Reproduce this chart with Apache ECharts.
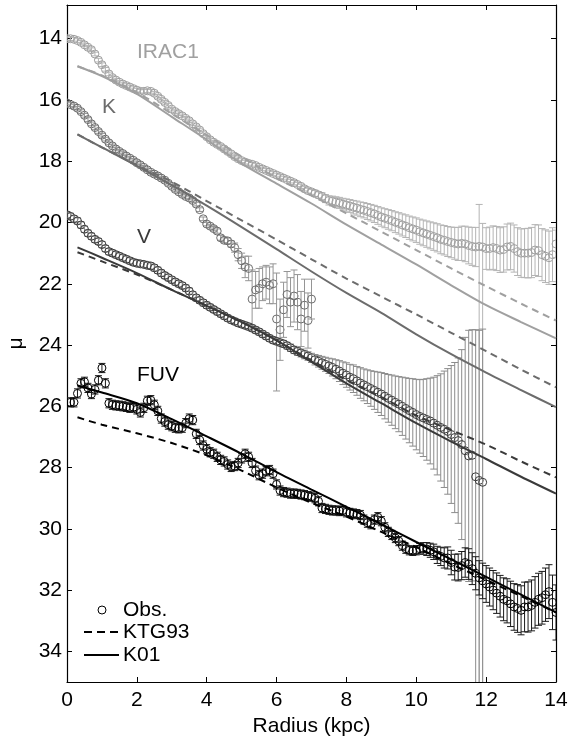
<!DOCTYPE html>
<html>
<head>
<meta charset="utf-8">
<script src="https://cdn.jsdelivr.net/npm/echarts@6/dist/echarts.min.js"></script>
<style>html,body{margin:0;padding:0;background:#fff}#c{width:575px;height:738px}</style>
</head>
<body>
<div id="c"></div>
<script>
// ---------- DATA ----------
const xTicks = [0, 2, 4, 6, 8, 10, 12, 14];
const yTicks = [14, 16, 18, 20, 22, 24, 26, 28, 30, 32, 34];
const bandLabels = ['IRAC1', 'K', 'V', 'FUV'];
const legendNames = ['Obs.', 'KTG93', 'K01'];

// observed profiles: [radius, mu, err(up), optional err(down)]
const iracObs = [
[0.0,14.00,0.06],[0.1,14.00,0.06],[0.2,14.02,0.06],[0.3,14.06,0.06],[0.4,14.12,0.06],[0.5,14.20,0.06],[0.6,14.28,0.06],[0.7,14.36,0.06],[0.8,14.50,0.06],[0.9,14.70,0.06],
[1.0,14.85,0.06],[1.1,15.00,0.06],[1.2,15.15,0.06],[1.3,15.27,0.06],[1.4,15.35,0.06],[1.5,15.42,0.06],[1.6,15.48,0.06],[1.7,15.53,0.06],[1.8,15.58,0.06],[1.9,15.63,0.06],
[2.0,15.68,0.06],[2.1,15.72,0.06],[2.2,15.72,0.06],[2.3,15.70,0.06],[2.4,15.72,0.06],[2.5,15.78,0.06],[2.6,15.88,0.06],[2.7,15.98,0.06],[2.8,16.08,0.06],[2.9,16.18,0.06],
[3.0,16.30,0.06],[3.1,16.38,0.06],[3.2,16.45,0.06],[3.3,16.52,0.06],[3.4,16.60,0.06],[3.5,16.68,0.06],[3.6,16.78,0.06],[3.7,16.88,0.06],[3.8,16.98,0.06],[3.9,17.10,0.06],
[4.0,17.20,0.06],[4.1,17.30,0.06],[4.2,17.38,0.06],[4.3,17.45,0.06],[4.4,17.52,0.06],[4.5,17.60,0.06],[4.6,17.68,0.06],[4.7,17.76,0.06],[4.8,17.85,0.06],[4.9,17.92,0.06],
[5.0,17.98,0.06],[5.1,18.03,0.06],[5.2,18.07,0.06],[5.3,18.10,0.06],[5.4,18.14,0.06],[5.5,18.20,0.06],[5.6,18.25,0.06],[5.7,18.30,0.06],[5.8,18.35,0.06],[5.9,18.40,0.06],
[6.0,18.45,0.06],[6.1,18.50,0.06],[6.2,18.55,0.06],[6.3,18.60,0.06],[6.4,18.65,0.06],[6.5,18.70,0.07],[6.6,18.76,0.07],[6.7,18.82,0.07],[6.8,18.90,0.07],[6.9,18.96,0.08],
[7.0,19.00,0.08],[7.1,19.05,0.10],[7.2,19.10,0.10],[7.3,19.15,0.12],[7.4,19.22,0.13],[7.5,19.28,0.15],[7.6,19.30,0.16],[7.7,19.33,0.17],[7.8,19.36,0.18],[7.9,19.40,0.19],
[8.0,19.43,0.20],[8.1,19.46,0.21],[8.2,19.50,0.22],[8.3,19.53,0.23],[8.4,19.57,0.24],[8.5,19.60,0.25],[8.6,19.64,0.26],[8.7,19.68,0.27],[8.8,19.72,0.28],[8.9,19.77,0.29],
[9.0,19.82,0.30],[9.1,19.86,0.31],[9.2,19.90,0.32],[9.3,19.94,0.33],[9.4,19.99,0.34],[9.5,20.03,0.35],[9.6,20.08,0.36],[9.7,20.12,0.37],[9.8,20.17,0.38],[9.9,20.21,0.39],
[10.0,20.25,0.40],[10.1,20.30,0.41],[10.2,20.34,0.42],[10.3,20.38,0.43],[10.4,20.42,0.44],[10.5,20.46,0.45],[10.6,20.50,0.46],[10.7,20.55,0.47],[10.8,20.58,0.48],[10.9,20.62,0.49],
[11.0,20.65,0.50],[11.1,20.68,0.52],[11.2,20.70,0.54],[11.3,20.68,0.56],[11.4,20.70,0.58],[11.5,20.75,0.60],[11.6,20.78,0.62],[11.7,20.80,0.64],[11.8,20.78,1.37,16],[11.9,20.80,0.77,16],
[12.0,20.85,0.68],[12.1,20.85,0.70],[12.2,20.82,0.71],[12.3,20.85,0.72],[12.4,20.90,0.73],[12.5,20.88,0.74],[12.6,20.80,0.75],[12.7,20.78,0.76],[12.8,20.85,0.77],[12.9,20.95,0.78],
[13.0,21.00,0.79],[13.1,21.00,0.80],[13.2,21.00,0.81],[13.3,20.98,0.82],[13.4,20.90,0.83],[13.5,20.92,0.84],[13.6,21.05,0.85],[13.7,21.10,0.86],[13.8,21.15,0.87],[13.9,21.05,0.88],
[14.0,20.70,0.45]
];

const kObs = [
[0.0,16.10,0.06],[0.1,16.15,0.06],[0.2,16.20,0.06],[0.3,16.27,0.06],[0.4,16.38,0.06],[0.5,16.50,0.06],[0.6,16.64,0.06],[0.7,16.78,0.06],[0.8,16.90,0.06],[0.9,17.03,0.06],
[1.0,17.15,0.06],[1.1,17.28,0.06],[1.2,17.40,0.06],[1.3,17.50,0.06],[1.4,17.60,0.06],[1.5,17.68,0.06],[1.6,17.75,0.06],[1.7,17.83,0.06],[1.8,17.90,0.06],[1.9,17.97,0.06],
[2.0,18.05,0.06],[2.1,18.12,0.06],[2.2,18.20,0.06],[2.3,18.28,0.06],[2.4,18.36,0.06],[2.5,18.42,0.06],[2.6,18.48,0.06],[2.7,18.55,0.06],[2.8,18.62,0.06],[2.9,18.72,0.06],
[3.0,18.82,0.06],[3.1,18.92,0.06],[3.2,19.00,0.06],[3.3,19.08,0.06],[3.4,19.15,0.06],[3.5,19.20,0.06],[3.6,19.28,0.06],[3.7,19.40,0.06],[3.8,19.58,0.06],[3.9,19.88,0.06],
[4.0,20.05,0.06],[4.1,20.12,0.06],[4.2,20.20,0.07],[4.3,20.28,0.07],[4.4,20.50,0.08],[4.5,20.58,0.08],[4.6,20.60,0.09],[4.7,20.70,0.10],[4.8,20.82,0.15],[4.9,21.05,0.20],
[5.0,21.25,0.25],[5.1,21.45,0.35],[5.2,21.50,0.40],[5.3,22.50,0.95],[5.4,22.20,0.60],[5.5,22.15,0.65],[5.6,22.00,0.55],[5.7,21.95,0.55],[5.8,22.05,0.60],[5.9,22.00,0.65],
[6.0,23.15,1.50,2.35],[6.1,23.50,1.00],[6.2,22.85,0.90],[6.3,22.35,0.75],[6.4,22.60,0.80],[6.5,22.40,0.85],[6.6,22.60,0.90],[6.7,23.15,0.90],[6.8,22.70,0.85],[6.9,23.20,0.90],
[7.0,22.50,0.65]
];

const vObs = [
[0.0,19.75,0.10],[0.1,19.80,0.10],[0.2,19.88,0.10],[0.3,19.95,0.10],[0.4,20.08,0.10],[0.5,20.22,0.10],[0.6,20.35,0.10],[0.7,20.45,0.10],[0.8,20.55,0.10],[0.9,20.62,0.10],
[1.0,20.72,0.10],[1.1,20.85,0.10],[1.2,20.95,0.10],[1.3,21.00,0.10],[1.4,21.05,0.10],[1.5,21.10,0.10],[1.6,21.15,0.10],[1.7,21.20,0.10],[1.8,21.25,0.10],[1.9,21.30,0.10],
[2.0,21.33,0.10],[2.1,21.35,0.10],[2.2,21.37,0.10],[2.3,21.40,0.10],[2.4,21.42,0.10],[2.5,21.48,0.10],[2.6,21.56,0.10],[2.7,21.65,0.10],[2.8,21.73,0.10],[2.9,21.80,0.10],
[3.0,21.87,0.10],[3.1,21.94,0.10],[3.2,22.00,0.10],[3.3,22.06,0.10],[3.4,22.14,0.10],[3.5,22.24,0.10],[3.6,22.36,0.10],[3.7,22.46,0.10],[3.8,22.54,0.10],[3.9,22.62,0.10],
[4.0,22.70,0.10],[4.1,22.77,0.10],[4.2,22.84,0.10],[4.3,22.91,0.10],[4.4,22.98,0.10],[4.5,23.05,0.10],[4.6,23.12,0.10],[4.7,23.18,0.10],[4.8,23.23,0.10],[4.9,23.28,0.10],
[5.0,23.32,0.10],[5.1,23.36,0.10],[5.2,23.40,0.10],[5.3,23.45,0.10],[5.4,23.51,0.10],[5.5,23.57,0.10],[5.6,23.64,0.10],[5.7,23.71,0.10],[5.8,23.78,0.10],[5.9,23.84,0.10],
[6.0,23.88,0.10],[6.1,23.92,0.10],[6.2,23.96,0.11],[6.3,24.02,0.11],[6.4,24.09,0.12],[6.5,24.16,0.12],[6.6,24.21,0.13],[6.7,24.26,0.13],[6.8,24.31,0.14],[6.9,24.36,0.14],
[7.0,24.42,0.15],[7.1,24.48,0.17],[7.2,24.53,0.19],[7.3,24.58,0.21],[7.4,24.63,0.23],[7.5,24.68,0.25],[7.6,24.73,0.28],[7.7,24.79,0.31],[7.8,24.85,0.34],[7.9,24.92,0.37],
[8.0,24.98,0.40],[8.1,25.05,0.42],[8.2,25.10,0.45],[8.3,25.17,0.47],[8.4,25.24,0.50],[8.5,25.30,0.52],[8.6,25.36,0.55],[8.7,25.42,0.58],[8.8,25.48,0.62],[8.9,25.54,0.66],
[9.0,25.60,0.70],[9.1,25.67,0.74],[9.2,25.74,0.78],[9.3,25.80,0.82],[9.4,25.87,0.86],[9.5,25.93,0.90],[9.6,26.00,0.95],[9.7,26.07,1.00],[9.8,26.14,1.05],[9.9,26.20,1.10],
[10.0,26.27,1.15],[10.1,26.33,1.20],[10.2,26.38,1.26],[10.3,26.43,1.33],[10.4,26.48,1.40],[10.5,26.55,1.50],[10.6,26.62,1.62],[10.7,26.69,1.75],[10.8,26.75,1.90],[10.9,26.82,2.05],
[11.0,26.92,2.25],[11.1,27.02,2.45],[11.2,27.12,2.70],[11.3,27.25,3.10],[11.4,27.45,3.70],[11.5,27.62,4.10],[11.6,27.60,4.10],[11.7,28.30,4.80,10],[11.8,28.42,4.90,10],[11.9,28.48,5.00,10]
];

const fuvObs = [
[0.1,25.87,0.15],[0.2,25.87,0.15],[0.3,25.58,0.15],[0.4,25.25,0.15],[0.5,25.20,0.15],[0.6,25.40,0.15],[0.7,25.60,0.15],[0.8,25.45,0.15],[0.9,25.15,0.15],
[1.0,24.75,0.15],[1.1,25.25,0.15],[1.2,25.90,0.15],[1.3,25.95,0.15],[1.4,25.97,0.15],[1.5,25.98,0.15],[1.6,26.00,0.15],[1.7,26.02,0.15],[1.8,26.05,0.15],[1.9,26.03,0.15],
[2.0,26.10,0.15],[2.1,26.20,0.15],[2.2,26.05,0.15],[2.3,25.82,0.15],[2.4,25.80,0.15],[2.5,25.95,0.15],[2.6,26.15,0.15],[2.7,26.40,0.15],[2.8,26.50,0.15],[2.9,26.60,0.15],
[3.0,26.65,0.15],[3.1,26.70,0.15],[3.2,26.72,0.15],[3.3,26.70,0.15],[3.4,26.55,0.15],[3.5,26.40,0.15],[3.6,26.45,0.15],[3.7,26.90,0.15],[3.8,27.10,0.15],[3.9,27.28,0.15],
[4.0,27.40,0.15],[4.1,27.50,0.15],[4.2,27.55,0.15],[4.3,27.65,0.15],[4.4,27.75,0.15],[4.5,27.80,0.15],[4.6,27.90,0.15],[4.7,27.98,0.15],[4.8,27.95,0.15],[4.9,27.85,0.15],
[5.0,27.70,0.15],[5.1,27.55,0.15],[5.2,27.65,0.15],[5.3,27.85,0.15],[5.4,28.10,0.15],[5.5,28.25,0.15],[5.6,28.20,0.15],[5.7,28.12,0.15],[5.8,28.08,0.15],[5.9,28.20,0.15],
[6.0,28.55,0.15],[6.1,28.75,0.15],[6.2,28.80,0.15],[6.3,28.82,0.15],[6.4,28.85,0.15],[6.5,28.85,0.15],[6.6,28.86,0.15],[6.7,28.88,0.15],[6.8,28.90,0.15],[6.9,28.93,0.15],
[7.0,28.95,0.15],[7.1,29.00,0.15],[7.2,29.10,0.15],[7.3,29.32,0.15],[7.4,29.35,0.15],[7.5,29.38,0.15],[7.6,29.40,0.15],[7.7,29.40,0.15],[7.8,29.42,0.15],[7.9,29.40,0.15],
[8.0,29.46,0.15],[8.1,29.48,0.15],[8.2,29.50,0.15],[8.3,29.52,0.15],[8.4,29.55,0.15],[8.5,29.70,0.15],[8.6,29.80,0.15],[8.7,29.85,0.15],[8.8,29.70,0.15],[8.9,29.62,0.15],
[9.0,29.75,0.15],[9.1,29.95,0.15],[9.2,30.10,0.15],[9.3,30.20,0.15],[9.4,30.30,0.15],[9.5,30.40,0.15],[9.6,30.55,0.15],[9.7,30.65,0.15],[9.8,30.70,0.15],[9.9,30.72,0.15],
[10.0,30.70,0.15],[10.1,30.65,0.17],[10.2,30.64,0.19],[10.3,30.66,0.21],[10.4,30.70,0.23],[10.5,30.75,0.25],[10.6,30.85,0.28],[10.7,30.90,0.30],[10.8,30.95,0.33],[10.9,30.95,0.36],
[11.0,31.10,0.40],[11.1,31.25,0.42],[11.2,31.26,0.44],[11.3,31.20,0.46],[11.4,31.10,0.48],[11.5,31.15,0.50],[11.6,31.30,0.52],[11.7,31.45,0.54],[11.8,31.60,0.56],[11.9,31.70,0.58],
[12.0,31.80,0.60],[12.1,31.90,0.62],[12.2,32.00,0.64],[12.3,32.10,0.66],[12.4,32.20,0.68],[12.5,32.30,0.70],[12.6,32.35,0.72],[12.7,32.45,0.74],[12.8,32.55,0.76],[12.9,32.60,0.78],
[13.0,32.66,0.80],[13.1,32.55,0.81],[13.2,32.55,0.82],[13.3,32.50,0.83],[13.4,32.40,0.84],[13.5,32.30,0.85],[13.6,32.25,0.86],[13.7,32.15,0.87],[13.8,32.05,0.88],[13.9,32.40,0.89],
[14.0,32.73,0.90]
];

// model profiles sampled at these radii
const modelRadius = [0.3, 1, 2, 3, 4, 5, 6, 7, 8, 9, 10, 11, 12, 13, 14];
const iracK01   = [14.90, 15.22, 15.80, 16.55, 17.30, 18.08, 18.73, 19.38, 20.07, 20.72, 21.37, 22.05, 22.70, 23.25, 23.78];
const iracKTG93 = [14.90, 15.20, 15.75, 16.45, 17.15, 17.85, 18.55, 19.12, 19.70, 20.30, 20.90, 21.50, 22.08, 22.65, 23.20];
const kK01      = [17.12, 17.55, 18.15, 18.78, 19.45, 20.15, 20.87, 21.60, 22.30, 22.95, 23.65, 24.30, 24.90, 25.47, 26.03];
const kKTG93    = [17.12, 17.55, 18.13, 18.67, 19.30, 19.93, 20.56, 21.20, 21.83, 22.42, 23.00, 23.60, 24.20, 24.80, 25.38];
const vK01      = [20.81, 21.15, 21.65, 22.20, 22.72, 23.25, 23.85, 24.55, 25.25, 25.90, 26.55, 27.15, 27.72, 28.30, 28.85];
const vKTG93    = [20.97, 21.27, 21.70, 22.20, 22.72, 23.25, 23.85, 24.50, 25.15, 25.70, 26.30, 26.78, 27.25, 27.80, 28.32];
const fuvK01    = [25.32, 25.55, 25.90, 26.42, 26.98, 27.55, 28.15, 28.72, 29.28, 29.85, 30.43, 31.00, 31.57, 32.15, 32.73];
const fuvKTG93  = [26.36, 26.60, 26.88, 27.20, 27.60, 28.10, 28.65, 29.15, 29.60, 30.10, 30.60, 31.15, 31.67, 32.20, 32.73];

// ---------- STYLE ----------
const FONT = '"Liberation Sans", Arial, Helvetica, sans-serif';
const FS = 21;
const bands = [
  {obs: iracObs, k01: iracK01, ktg: iracKTG93, color: '#a0a0a0', bar: '#b4b4b4'},
  {obs: kObs,    k01: kK01,    ktg: kKTG93,    color: '#6c6c6c', bar: '#959595'},
  {obs: vObs,    k01: vK01,    ktg: vKTG93,    color: '#3a3a3a', bar: '#8c8c8c'},
  {obs: fuvObs,  k01: fuvK01,  ktg: fuvKTG93,  color: '#000000', bar: '#1a1a1a'}
];

function pairs(vals) { return modelRadius.map((r, i) => [r, vals[i]]); }

function obsRenderer(color, barColor) {
  return function (params, api) {
    const r = api.value(0), mu = api.value(1), eu = api.value(2);
    let ed = api.value(3);
    if (!(ed > 0)) ed = eu;
    const c = api.coord([r, mu]);
    const t = api.coord([r, mu - eu]);
    const b = api.coord([r, mu + ed]);
    const hw = 3.5;
    const bs = {stroke: barColor, lineWidth: 1};
    return {
      type: 'group',
      children: [
        {type: 'line', shape: {x1: c[0], y1: t[1], x2: c[0], y2: b[1]}, style: bs},
        {type: 'line', shape: {x1: c[0] - hw, y1: t[1], x2: c[0] + hw, y2: t[1]}, style: bs},
        {type: 'line', shape: {x1: c[0] - hw, y1: b[1], x2: c[0] + hw, y2: b[1]}, style: bs},
        {type: 'circle', shape: {cx: c[0], cy: c[1], r: 4}, style: {fill: 'none', stroke: color, lineWidth: 1}}
      ]
    };
  };
}

const series = [];
bands.forEach(b => {
  series.push({
    type: 'custom', name: legendNames[0], clip: true,
    dimensions: ['r', 'mu', 'eu', 'ed'], encode: {x: 0, y: 1},
    renderItem: obsRenderer(b.color, b.bar), data: b.obs, z: 2
  });
});
bands.forEach(b => {
  series.push({type: 'line', name: legendNames[1], data: pairs(b.ktg), showSymbol: false, smooth: 0.3,
    lineStyle: {color: b.color, width: 2, type: [7, 5]}, z: 3});
  series.push({type: 'line', name: legendNames[2], data: pairs(b.k01), showSymbol: false, smooth: 0.3,
    lineStyle: {color: b.color, width: 2}, z: 3});
});

const axisCommonX = {
  type: 'value', min: 0, max: 14, interval: 2,
  axisLine: {show: true, onZero: false, lineStyle: {color: '#000', width: 1.2}},
  axisTick: {show: true, inside: true, length: 5, lineStyle: {color: '#000', width: 1}},
  splitLine: {show: false}
};
const axisCommonY = {
  type: 'value', inverse: true, min: 12.9, max: 35,
  axisLine: {show: true, onZero: false, lineStyle: {color: '#000', width: 1.2}},
  axisTick: {show: true, inside: true, length: 5, customValues: yTicks, lineStyle: {color: '#000', width: 1}},
  splitLine: {show: false}
};

const textColors = ['#a0a0a0', '#6c6c6c', '#3a3a3a', '#000000'];
const labelPos = [[137, 52], [102, 107], [137, 237], [137, 375]];
const graphics = bandLabels.map((t, i) => ({
  type: 'text', style: {text: t, x: labelPos[i][0], y: labelPos[i][1], fill: textColors[i],
    font: FS + 'px ' + FONT, verticalAlign: 'middle'}, z: 10
}));
graphics.push(
  {type: 'circle', shape: {cx: 102, cy: 610, r: 4}, style: {fill: 'none', stroke: '#000', lineWidth: 1}, z: 10},
  {type: 'text', style: {text: legendNames[0], x: 123, y: 610, fill: '#000', font: FS + 'px ' + FONT, verticalAlign: 'middle'}, z: 10},
  {type: 'line', shape: {x1: 84, y1: 632, x2: 119, y2: 632}, style: {stroke: '#000', lineWidth: 2, lineDash: [8, 5]}, z: 10},
  {type: 'text', style: {text: legendNames[1], x: 123, y: 632, fill: '#000', font: FS + 'px ' + FONT, verticalAlign: 'middle'}, z: 10},
  {type: 'line', shape: {x1: 84, y1: 655, x2: 119, y2: 655}, style: {stroke: '#000', lineWidth: 2}, z: 10},
  {type: 'text', style: {text: legendNames[2], x: 123, y: 655, fill: '#000', font: FS + 'px ' + FONT, verticalAlign: 'middle'}, z: 10}
);

const chart = echarts.init(document.getElementById('c'), null, {renderer: 'canvas'});
chart.setOption({
  animation: false,
  backgroundColor: '#fff',
  textStyle: {fontFamily: FONT},
  grid: {left: 67, right: 19, top: 5, bottom: 56, containLabel: false, outerBoundsMode: 'none'},
  xAxis: [
    Object.assign({}, axisCommonX, {
      position: 'bottom',
      axisLabel: {show: true, color: '#000', fontSize: FS, fontFamily: FONT, margin: 8, customValues: xTicks},
      name: 'Radius (kpc)', nameLocation: 'middle', nameGap: 29,
      nameTextStyle: {color: '#000', fontSize: FS, fontFamily: FONT}
    }),
    Object.assign({}, axisCommonX, {position: 'top', axisLabel: {show: false}})
  ],
  yAxis: [
    Object.assign({}, axisCommonY, {
      position: 'left',
      axisLabel: {show: true, color: '#000', fontSize: FS, fontFamily: FONT, margin: 5, customValues: yTicks},
      name: 'μ', nameLocation: 'middle', nameGap: 40, nameRotate: 90,
      nameTextStyle: {color: '#000', fontSize: FS, fontFamily: FONT}
    }),
    Object.assign({}, axisCommonY, {position: 'right', axisLabel: {show: false}})
  ],
  series: series,
  graphic: graphics
});
</script>
</body>
</html>
